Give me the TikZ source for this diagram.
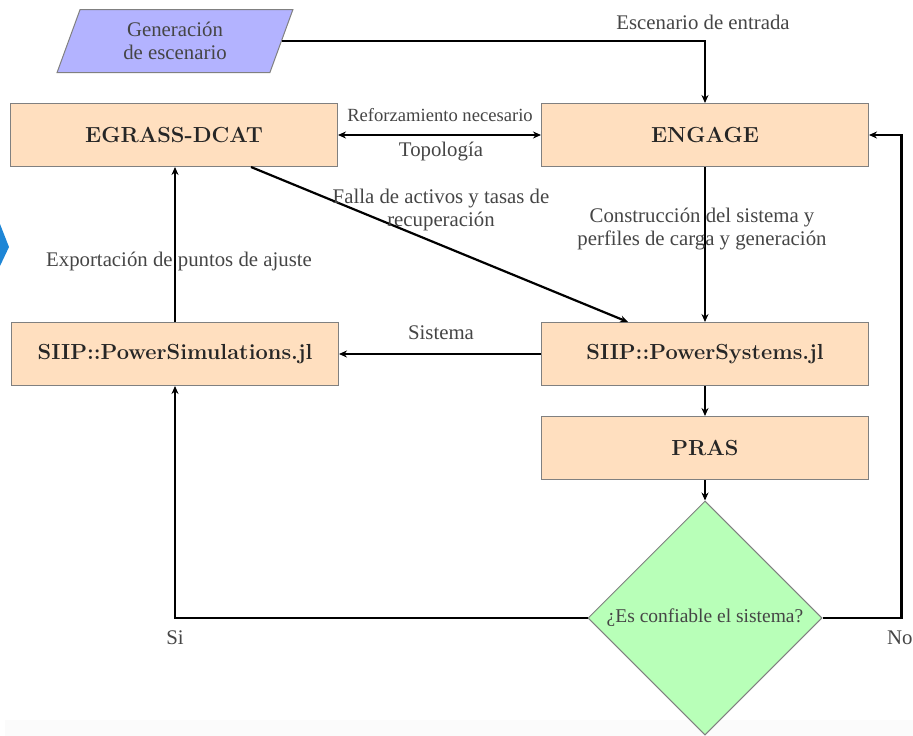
\documentclass[tikz,border=0pt]{standalone}
\usepackage{fontspec}
\newfontfamily\lblfont{Liberation Serif}
\usetikzlibrary{shapes.geometric,arrows.meta,calc}
\definecolor{boxfill}{HTML}{FFDFBF}
\definecolor{diafill}{HTML}{B8FFB8}
\definecolor{parafill}{HTML}{B3B3FF}
\definecolor{lblcol}{HTML}{454545}
\definecolor{edgecol}{HTML}{808080}
\definecolor{bluebit}{HTML}{1E86D6}
\begin{document}
\begin{tikzpicture}[x=1pt,y=-1pt,
  procbox/.style={draw=edgecol,line width=1pt,fill=boxfill,minimum width=327pt,minimum height=63pt,inner sep=0pt,
    font=\fontsize{21.8}{24}\selectfont\bfseries,text=black!85},
  tip/.style={Stealth[length=8pt,width=7pt]},
  conn/.style={line width=2.2pt,-{Stealth[length=8pt,width=7pt]}},
  lbl/.style={font=\lblfont\fontsize{20.8}{23}\selectfont,text=lblcol,align=center,inner sep=0pt}]
\useasboundingbox (0,0) rectangle (913,736);
\fill[gray!3] (5,720) rectangle (913,736);
\fill[bluebit] (0,224) -- (9,247) -- (0,266) -- cycle;

\node[trapezium,trapezium left angle=71.6,trapezium right angle=108.4,trapezium stretches=true,
  minimum width=236pt,minimum height=63pt,draw=edgecol,line width=1pt,fill=parafill,inner sep=0pt,
  lbl,text=lblcol] (gen) at (175,41) {Generación\\de escenario};

\node[procbox] (eg) at (174,135) {EGRASS-DCAT};
\node[procbox] (eng) at (705,135) {ENGAGE};
\node[procbox] (ps) at (705,354) {SIIP::PowerSystems.jl};
\node[procbox] (psim) at (175,354) {SIIP::PowerSimulations.jl};
\node[procbox] (pras) at (705,448) {PRAS};
\node[diamond,aspect=1,minimum width=234pt,minimum height=234pt,inner sep=0pt,draw=edgecol,line width=1pt,
  fill=diafill,font=\lblfont\fontsize{19.5}{22}\selectfont,text=lblcol] (dia) at (705,618) {¿Es confiable el sistema?};

% connectors
\draw[conn] (gen.east) -| (eng.north);
\draw[line width=2.2pt,{Stealth[length=8pt,width=7pt]}-{Stealth[length=8pt,width=7pt]}] (eg.east) -- (eng.west);
\draw[conn] ([xshift=77pt]eg.south) -- ([xshift=-77pt]ps.north);
\draw[conn] (eng.south) -- (ps.north);
\draw[conn] (ps.west) -- (psim.east);
\draw[conn] (psim.north) -- (psim.north |- eg.south);
\draw[conn] (ps.south) -- (pras.north);
\draw[conn] (pras.south) -- (dia.north);
\draw[conn] (dia.west) -| (psim.south);
\draw[conn] (dia.east) -- ++(79,0) |- (eng.east);

% labels
\node[lbl] (l1) at (703,22) {Escenario de entrada};
\node[lbl,font=\lblfont\fontsize{18.6}{21}\selectfont] (l2) at (440,115) {Reforzamiento necesario};
\node[lbl] (l3) at (441,152) {Topología};
\node[lbl] (l4) at (441,210) {Falla de activos y tasas de\\recuperación};
\node[lbl] (l5) at (702,229) {Construcción del sistema y\\perfiles de carga y generación};
\node[lbl] (l6) at (179,261) {Exportación de puntos de ajuste};
\node[lbl] (l7) at (441,333) {Sistema};
\node[lbl] (l8) at (175,638) {Si};
\node[lbl,anchor=west] (l9) at (887,638) {No};
\end{tikzpicture}
\end{document}
